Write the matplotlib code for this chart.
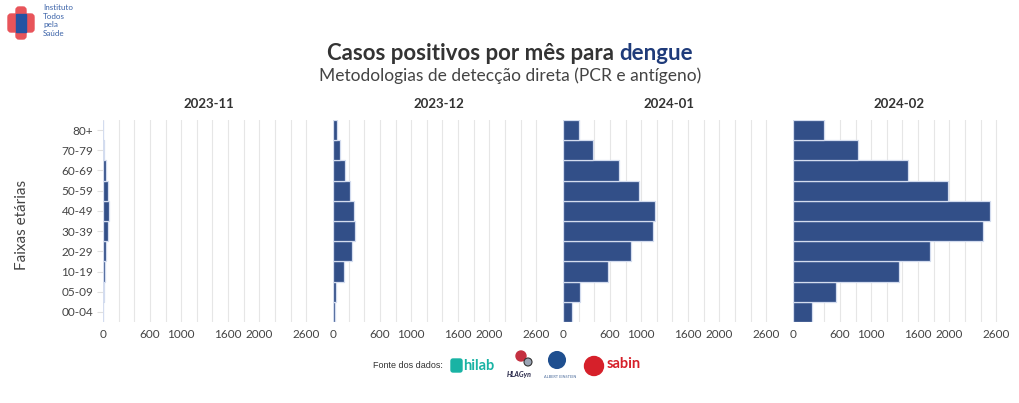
import numpy as np
import matplotlib
matplotlib.use('Agg')
import matplotlib.pyplot as plt
from matplotlib.patches import Rectangle, Circle, FancyBboxPatch

# age groups, bottom to top
faixas = ['00-04', '05-09', '10-19', '20-29', '30-39', '40-49', '50-59', '60-69', '70-79', '80+']
meses = ['2023-11', '2023-12', '2024-01', '2024-02']

# positive cases per age group
casos_2023_11 = [3, 13, 26, 39, 69, 82, 60, 34, 17, 6]
casos_2023_12 = [21, 39, 138, 249, 284, 271, 215, 150, 90, 47]
casos_2024_01 = [120, 223, 573, 872, 1146, 1172, 967, 718, 390, 201]
casos_2024_02 = [244, 547, 1355, 1756, 2436, 2526, 1983, 1467, 826, 397]
series = [casos_2023_11, casos_2023_12, casos_2024_01, casos_2024_02]

tick_vals = [0, 600, 1000, 1600, 2000, 2600]
grid_vals = np.arange(0, 2601, 200)

plt.rcParams['font.family'] = ['Lato', 'DejaVu Sans']

W, H = 1020, 403
fig = plt.figure(figsize=(W / 100, H / 100), dpi=100)

bar_color = '#324f88'
edge_color = '#d3dcef'
text_color = '#444444'

x0s = [103, 333, 563, 793]
ax_w = 211
top, bot = 120, 322

for i, (mes, vals) in enumerate(zip(meses, series)):
    ax = fig.add_axes([x0s[i] / W, 1 - bot / H, ax_w / W, (bot - top) / H])
    y = np.arange(len(faixas))
    ax.barh(y, vals, height=1.0, color=bar_color, edgecolor=edge_color, linewidth=0.9, zorder=3)
    ax.set_xlim(0, 2700)
    ax.set_ylim(-0.5, len(faixas) - 0.5)
    ax.set_xticks(tick_vals)
    ax.set_xticklabels([str(v) for v in tick_vals])
    ax.set_xticks(grid_vals, minor=True)
    ax.grid(axis='x', which='both', color='#e6e6e6', linewidth=0.8, zorder=0)
    ax.tick_params(axis='x', which='both', length=0, labelsize=8.5, colors=text_color, pad=5)
    for s in ax.spines.values():
        s.set_visible(False)
    ax.set_title(mes, fontsize=9.5, fontweight='bold', color='#333333', pad=9)
    if i == 0:
        ax.set_yticks(y)
        ax.set_yticklabels(faixas)
        ax.tick_params(axis='y', length=4, color='#e0e0e0', labelsize=8.5, labelcolor=text_color, pad=3)
        ax.set_ylabel('Faixas etárias', fontsize=11, color=text_color)
        ax.yaxis.set_label_coords(-74 / ax_w, 0.48)
    else:
        ax.set_yticks([])

# title in two colours, centred together
ty = 1 - 53 / H
ta = fig.text(0, ty, 'Casos positivos por mês para ', fontsize=16, fontweight='bold',
              color='#333333', ha='left', va='center')
tb = fig.text(0, ty, 'dengue', fontsize=16, fontweight='bold', color='#1f3b7a',
              ha='left', va='center')
r = fig.canvas.get_renderer()
wa = ta.get_window_extent(r).width / W
wb = tb.get_window_extent(r).width / W
start = 0.5 - (wa + wb) / 2
ta.set_x(start)
tb.set_x(start + wa)
fig.text(0.5, 1 - 76 / H, 'Metodologias de detecção direta (PCR e antígeno)', fontsize=12.5,
         color='#444444', ha='center', va='center')

# overlay in pixel coordinates for the logos
ov = fig.add_axes([0, 0, 1, 1])
ov.set_xlim(0, W)
ov.set_ylim(H, 0)
ov.axis('off')

# institute logo (rough)
ov.add_patch(FancyBboxPatch((16, 7), 10, 32, boxstyle='round,pad=0,rounding_size=3', color='#e8545a'))
ov.add_patch(FancyBboxPatch((8, 14), 26, 18, boxstyle='round,pad=0,rounding_size=3', color='#e8545a'))
ov.add_patch(Rectangle((16, 14), 10, 18, color='#2553a3'))
for k, w in enumerate(['Instituto', 'Todos', 'pela', 'Saúde']):
    ov.text(43, 8 + k * 8.5, w, fontsize=5.8, color='#3a62a8', va='center')

# sources
ov.text(443, 366, 'Fonte dos dados:', fontsize=6.5, color='#333333', ha='right', va='center',
        family=['Liberation Sans', 'DejaVu Sans'])
ov.add_patch(FancyBboxPatch((451, 359), 11, 13, boxstyle='round,pad=0,rounding_size=2', color='#19b3a4'))
ov.text(463, 366, 'hilab', fontsize=10.5, fontweight='bold', color='#19b3a4', va='center')
ov.add_patch(Circle((521, 356), 5, color='#c43040'))
ov.add_patch(Circle((528, 362), 4, facecolor='#9aa4b4', edgecolor='#333333', linewidth=0.8))
ov.text(519, 375, 'HLAGyn', fontsize=5, fontweight='bold', style='italic', color='#222244',
        ha='center', va='center')
ov.add_patch(Circle((557, 360), 8, facecolor='#1f4f8f', edgecolor='#1f4f8f', linewidth=1.5))
ov.text(560, 377, 'ALBERT EINSTEIN', fontsize=2.8, color='#4a6a9a', ha='center', va='center')
ov.add_patch(Circle((594, 366), 9.5, color='#d6202a'))
ov.text(607, 364, 'sabin', fontsize=10.5, fontweight='bold', color='#d6202a', va='center')

fig.savefig('out.png', dpi=100)
